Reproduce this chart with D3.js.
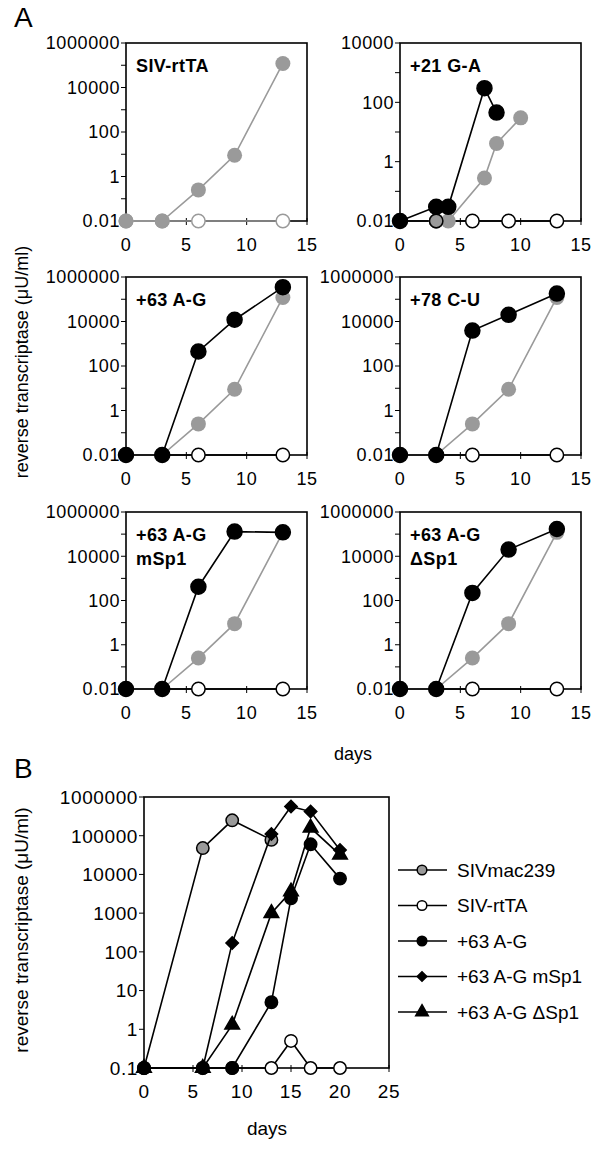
<!DOCTYPE html>
<html><head><meta charset="utf-8">
<script src="https://cdn.jsdelivr.net/npm/d3@7"></script>
<style>body{margin:0;background:#fff} svg text{font-family:"Liberation Sans",Arial,Helvetica,sans-serif;fill:#000}</style>
</head><body><svg id="c" width="600" height="1149"></svg>
<script>
// ---------- DATA ----------
// Panel A (days 0..15, log y)
const daysA = [0, 3, 6, 9, 13];
const daysRtTA_A = [0, 3, 6, 13];
const sivmac239A = [0.01, 0.01, 0.25, 9, 120000];
const sivRtTAA = [0.01, 0.01, 0.01, 0.01];
const g21Days = [0, 3, 4, 7, 8];
const g21Vals = [0.01, 0.03, 0.03, 300, 45];
const g21GrayDays = [3, 4, 7, 8, 10];
const g21GrayVals = [0.01, 0.01, 0.28, 4.1, 30];
const g21OpenDays = [0, 3, 6, 9, 13];
const g21OpenVals = [0.01, 0.01, 0.01, 0.01, 0.01];
const ag63A = [0.01, 0.01, 450, 12000, 350000];
const cu78A = [0.01, 0.01, 3900, 20000, 180000];
const mSp1A = [0.01, 0.01, 420, 130000, 120000];
const dSp1A = [0.01, 0.01, 220, 20000, 170000];
const panelTitles = [["SIV-rtTA"], ["+21 G-A"], ["+63 A-G"], ["+78 C-U"], ["+63 A-G", "mSp1"], ["+63 A-G", "\u0394Sp1"]];
const xTicksA = [0, 5, 10, 15];
const yLabelsA = ["0.01", "1", "100", "10000", "1000000"];
const yLabelsA2 = ["0.01", "1", "100", "10000"];

// Panel B
const daysB = [0, 6, 9, 13, 15, 17, 20];
const daysSivmacB = [0, 6, 9, 13];
const sivmac239B = [0.1, 48000, 250000, 78000];
const sivRtTAB = [0.1, 0.1, 0.1, 0.1, 0.5, 0.1, 0.1];
const ag63B = [0.1, 0.1, 0.1, 5, 2400, 60000, 7800];
const mSp1B = [0.1, 0.1, 170, 110000, 570000, 420000, 43000];
const dSp1B = [0.1, 0.1, 1.3, 1000, 3600, 160000, 32000];
const legendLabels = ["SIVmac239", "SIV-rtTA", "+63 A-G", "+63 A-G mSp1", "+63 A-G \u0394Sp1"];
const xTicksB = [0, 5, 10, 15, 20, 25];
const yLabelsB = ["0.1", "1", "10", "100", "1000", "10000", "100000", "1000000"];

const yTitle = "reverse transcriptase (\u03bcU/ml)";

// ---------- DRAW ----------
const svg = d3.select("#c");
const GRAY = "#9a9a9a";
const zip = (d, v) => d.map((x, i) => ({x, y: v[i]}));

function marker(g, kind, shape, cx, cy, r) {
  let fill, stroke;
  if (kind === "gray") { fill = GRAY; stroke = "none"; }
  else if (kind === "grayB") { fill = GRAY; stroke = "#000"; }
  else if (kind === "black") { fill = "#000"; stroke = "#000"; }
  else if (kind === "open") { fill = "#fff"; stroke = "#000"; }
  else if (kind === "openGray") { fill = "#fff"; stroke = GRAY; }
  else if (kind === "ring") { fill = "none"; stroke = "#000"; }
  let d, rot = 0;
  if (shape === "diamond") { d = d3.symbol(d3.symbolSquare, 2 * r * r)(); rot = 45; }
  else if (shape === "triangle") { d = d3.symbol(d3.symbolTriangle, 1.9 * r * r)(); }
  else { d = d3.symbol(d3.symbolCircle, Math.PI * r * r)(); }
  g.append("path").attr("d", d)
    .attr("transform", `translate(${cx},${cy}) rotate(${rot})`)
    .attr("fill", fill).attr("stroke", stroke).attr("stroke-width", 1.5);
}

function series(g, x, y, pts, kind, shape, r, drawLine = true) {
  const col = (kind === "gray" || kind === "openGray") ? GRAY : "#000";
  if (drawLine) {
    g.append("path").datum(pts)
      .attr("d", d3.line().x(d => x(d.x)).y(d => y(d.y)))
      .attr("fill", "none").attr("stroke", col).attr("stroke-width", 1.6);
  }
  pts.forEach(d => marker(g, kind, shape, x(d.x), y(d.y), r));
}

function axesBox(g, x, y, xTicks, yTicksAll, yLabelVals, yLabels, fs) {
  const [x0, x1] = x.range(); const [y1, y0] = y.range();
  yTicksAll.forEach(v => {
    g.append("line").attr("x1", x0 - 5).attr("x2", x0).attr("y1", y(v)).attr("y2", y(v)).attr("stroke", "#000").attr("stroke-width", 1);
  });
  yLabelVals.forEach((v, i) => {
    g.append("text").attr("x", x0 - 6).attr("y", y(v)).attr("dy", "0.36em")
      .attr("text-anchor", "end").attr("font-size", fs).attr("letter-spacing", 0.6).text(yLabels[i]);
  });
  xTicks.forEach(v => {
    g.append("line").attr("x1", x(v)).attr("x2", x(v)).attr("y1", y1 - 3).attr("y2", y1 + 4).attr("stroke", "#000").attr("stroke-width", 1);
    g.append("text").attr("x", x(v)).attr("y", y1 + 30).attr("text-anchor", "middle")
      .attr("font-size", fs).attr("letter-spacing", 0.6).text(v);
  });
  g.append("rect").attr("x", x0).attr("y", y0).attr("width", x1 - x0).attr("height", y1 - y0)
    .attr("fill", "none").attr("stroke", "#000").attr("stroke-width", 1.6);
}

// Panel letters
svg.append("text").attr("x", 14).attr("y", 27).attr("font-size", 28).text("A");
svg.append("text").attr("x", 14).attr("y", 778).attr("font-size", 28).text("B");

// Panel A layout
const colsA = [[126, 307], [400, 581]];
const rowsA = [[43, 221], [277, 455], [512, 689]];
const blackSets = [null, null, ag63A, cu78A, mSp1A, dSp1A];

for (let p = 0; p < 6; p++) {
  const c = colsA[p % 2], rw = rowsA[Math.floor(p / 2)];
  const g = svg.append("g");
  const x = d3.scaleLinear().domain([0, 15]).range(c);
  const top = p === 1 ? 10000 : 1000000;
  const y = d3.scaleLog().domain([0.01, top]).range([rw[1], rw[0]]);
  const allTicks = d3.range(-2, Math.log10(top) + 1).map(k => Math.pow(10, k));
  const labs = p === 1 ? yLabelsA2 : yLabelsA;
  axesBox(g, x, y, xTicksA, allTicks, labs.map(Number), labs, 18);

  const R = 7.5;
  if (p === 0) {
    series(g, x, y, zip(daysRtTA_A, sivRtTAA), "openGray", "circle", R - 0.8);
    series(g, x, y, zip(daysA, sivmac239A), "gray", "circle", R);
  } else if (p === 1) {
    series(g, x, y, zip(g21OpenDays, g21OpenVals), "open", "circle", R - 0.8);
    series(g, x, y, zip(g21GrayDays, g21GrayVals), "gray", "circle", R);
    series(g, x, y, zip(g21OpenDays, g21OpenVals).slice(1, 2), "ring", "circle", R - 0.8, false);
    series(g, x, y, zip(g21Days, g21Vals), "black", "circle", R);
  } else {
    series(g, x, y, zip(daysRtTA_A, sivRtTAA), "open", "circle", R - 0.8);
    series(g, x, y, zip(daysA, sivmac239A), "gray", "circle", R);
    series(g, x, y, zip(daysA, blackSets[p]), "black", "circle", R);
  }
  const t = g.append("text").attr("x", c[0] + 10).attr("y", rw[0] + 29)
    .attr("font-size", 18).attr("font-weight", "bold").attr("letter-spacing", 0.4);
  panelTitles[p].forEach((s, i) => t.append("tspan").attr("x", c[0] + 10).attr("dy", i === 0 ? 0 : 24).text(s));
}

// Panel A axis titles
svg.append("text").attr("transform", "translate(28,362) rotate(-90)").attr("text-anchor", "middle")
  .attr("font-size", 18).text(yTitle);
svg.append("text").attr("x", 353).attr("y", 760).attr("text-anchor", "middle").attr("font-size", 18).text("days");

// Panel B
{
  const g = svg.append("g");
  const x = d3.scaleLinear().domain([0, 25]).range([144, 389]);
  const y = d3.scaleLog().domain([0.1, 1000000]).range([1068, 797]);
  axesBox(g, x, y, xTicksB, yLabelsB.map(Number), yLabelsB.map(Number), yLabelsB, 19);
  const r = 6.2;
  series(g, x, y, zip(daysSivmacB, sivmac239B), "grayB", "circle", r);
  series(g, x, y, zip(daysB, sivRtTAB), "open", "circle", r);
  series(g, x, y, zip(daysB, ag63B), "black", "circle", r);
  series(g, x, y, zip(daysB, dSp1B), "black", "triangle", 7);
  series(g, x, y, zip(daysB, mSp1B), "black", "diamond", 6.2);

  svg.append("text").attr("transform", "translate(28,930) rotate(-90)").attr("text-anchor", "middle")
    .attr("font-size", 19).text(yTitle);
  svg.append("text").attr("x", 267).attr("y", 1135).attr("text-anchor", "middle").attr("font-size", 19).text("days");

  const kinds = [["grayB", "circle"], ["open", "circle"], ["black", "circle"], ["black", "diamond"], ["black", "triangle"]];
  legendLabels.forEach((lab, i) => {
    const ly = 870 + i * 35.5;
    g.append("line").attr("x1", 398).attr("x2", 447).attr("y1", ly).attr("y2", ly).attr("stroke", "#000").attr("stroke-width", 1.6);
    marker(g, kinds[i][0], kinds[i][1], 422, ly, kinds[i][1] === "triangle" ? 6 : 4.8);
    g.append("text").attr("x", 457).attr("y", ly).attr("dy", "0.36em").attr("font-size", 19).text(lab);
  });
}
</script></body></html>
